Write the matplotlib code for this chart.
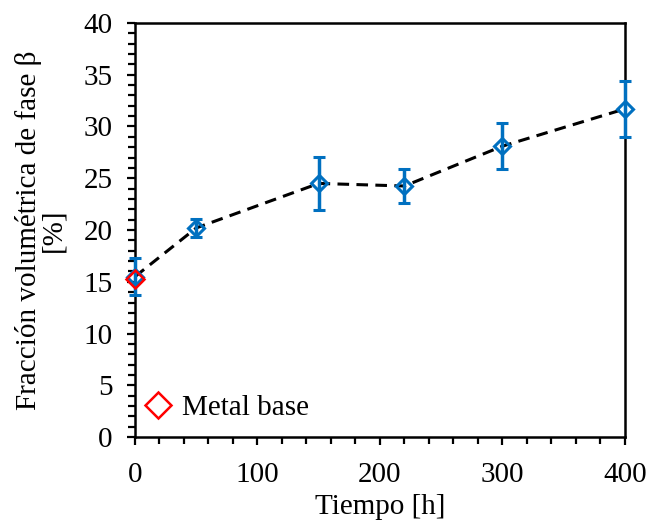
import numpy as np
import matplotlib
matplotlib.use("Agg")
import matplotlib.pyplot as plt
import matplotlib.ticker as ticker

# aging time [h] vs beta phase volume fraction [%]
tiempo = [0, 50, 150, 220, 300, 400]
fraccion = [15.5, 20.2, 24.5, 24.25, 28.1, 31.7]
error = [1.8, 0.9, 2.55, 1.65, 2.25, 2.7]

# base metal reference
base_t = [0]
base_f = [15.3]

plt.rcParams['font.family'] = ['Liberation Serif', 'DejaVu Serif']

fig = plt.figure(figsize=(6.49, 5.21), dpi=100)
ax = fig.add_axes([0.208, 0.161, 0.755, 0.795])

azul = '#0070C0'
fs = 21
ax.plot(tiempo, fraccion, color='black', lw=2.2, ls=(0, (3.8, 2.4)), zorder=2, clip_on=False)
ax.errorbar(tiempo, fraccion, yerr=error, fmt='D', color=azul, mfc='none', mec=azul,
            ms=8, mew=2.2, elinewidth=2.5, capsize=4.5, capthick=2.5, zorder=3, clip_on=False)
ax.plot(base_t, base_f, 'D', color='red', mfc='none', mew=1.8, ms=9, zorder=4,
        clip_on=False, label='Metal base')

ax.set_xlim(0, 400)
ax.set_ylim(0, 40)
ax.xaxis.set_major_locator(ticker.MultipleLocator(100))
ax.xaxis.set_minor_locator(ticker.MultipleLocator(20))
ax.yaxis.set_major_locator(ticker.MultipleLocator(5))
ax.yaxis.set_minor_locator(ticker.MultipleLocator(1))
ax.tick_params(which='both', direction='out', width=1.6, labelsize=fs, colors='black')
ax.tick_params(which='major', length=6)
ax.tick_params(which='minor', length=5)
ax.tick_params(axis='y', which='major', pad=10)
ax.tick_params(axis='x', which='major', pad=12)
for s in ax.spines.values():
    s.set_linewidth(1.8)

ax.set_xlabel('Tiempo [h]', fontsize=fs, labelpad=4)
ax.set_ylabel('Fracción volumétrica de fase β\n[%]', fontsize=fs, labelpad=12, linespacing=0.95)

ax.legend(loc='center left', bbox_to_anchor=(-0.015, 0.07), frameon=False, fontsize=fs,
          handletextpad=0.15, borderaxespad=0, handlelength=1.3, markerscale=1.5)

fig.savefig('out.png', dpi=100)
